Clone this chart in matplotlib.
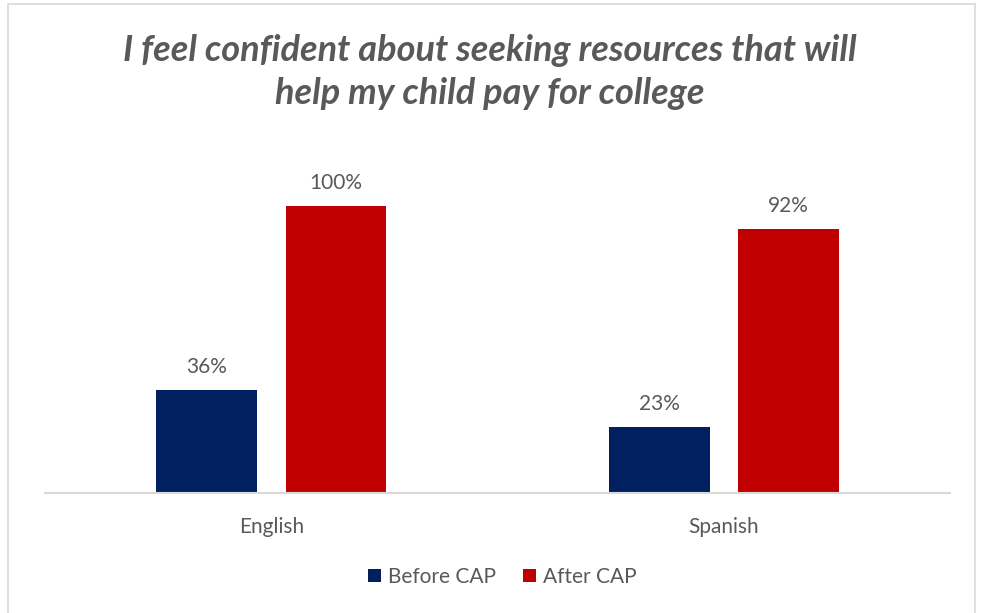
import matplotlib.pyplot as plt
import numpy as np
from matplotlib.patches import Rectangle

plt.rcParams['font.family'] = ['Lato', 'DejaVu Sans']

groups = ['English', 'Spanish']
series = ['Before CAP', 'After CAP']
before_cap = [36, 23]
after_cap = [100, 92]
colors = ['#002060', '#C00000']
text_gray = '#595959'

fig = plt.figure(figsize=(9.83, 6.13), dpi=100)
fig.patches.append(Rectangle((0.008, -0.01), 0.984, 1.003, transform=fig.transFigure,
                             fill=False, edgecolor='#d9d9d9', linewidth=1.2))

ax = fig.add_axes([0.0458, 0.1958, 0.9207, 0.5618])
x = np.arange(len(groups))
width = 0.223
offset = 0.143

for vals, off, col, name in zip([before_cap, after_cap], [-offset, offset], colors, series):
    bars = ax.bar(x + off, vals, width, color=col, label=name)
    for b, v in zip(bars, vals):
        ax.text(b.get_x() + b.get_width() / 2, v + 4.5, f'{v}%', ha='center', va='bottom',
                fontsize=15, color=text_gray)

ax.set_xlim(-0.5, 1.5)
ax.set_ylim(0, 120)
ax.set_yticks([])
ax.set_xticks(x)
ax.set_xticklabels(groups, fontsize=15, color=text_gray)
ax.tick_params(axis='x', length=0, pad=17)
for s in ['top', 'right', 'left']:
    ax.spines[s].set_visible(False)
ax.spines['bottom'].set_color('#d9d9d9')
ax.spines['bottom'].set_linewidth(1.5)

fig.text(0.4985, 0.882, 'I feel confident about seeking resources that will\nhelp my child pay for college',
         ha='center', va='center', fontsize=26, fontweight='bold', fontstyle='italic',
         color=text_gray, linespacing=1.38)

leg = fig.legend(loc='center', bbox_to_anchor=(0.511, 0.059), ncol=2, frameon=False,
                 fontsize=15, handlelength=0.6, handleheight=0.6, handletextpad=0.35,
                 columnspacing=1.3)
for t in leg.get_texts():
    t.set_color(text_gray)

fig.savefig('out.png', dpi=100, facecolor='white')
